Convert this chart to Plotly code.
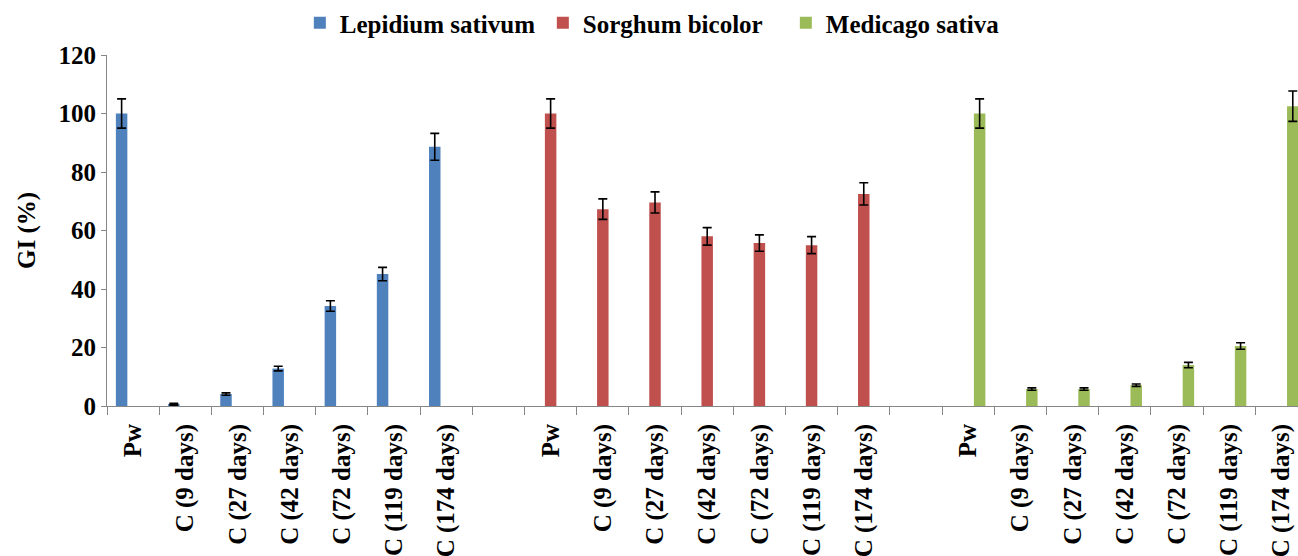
import plotly.graph_objects as go

# Treatments shown for each test species
treatments = ["Pw", "C (9 days)", "C (27 days)", "C (42 days)",
              "C (72 days)", "C (119 days)", "C (174 days)"]
species = ["Lepidium sativum", "Sorghum bicolor", "Medicago sativa"]

# Germination index (%) and its standard deviation
lepidium_gi = [100, 0.6, 4.1, 12.8, 34.2, 45.1, 88.6]
lepidium_err = [5.0, 0.3, 0.4, 0.8, 1.8, 2.3, 4.6]
sorghum_gi = [100, 67.3, 69.6, 58.0, 55.7, 55.0, 72.5]
sorghum_err = [5.0, 3.5, 3.6, 3.0, 2.8, 2.9, 3.8]
medicago_gi = [100, 5.8, 5.8, 7.1, 14.0, 20.5, 102.5]
medicago_err = [5.0, 0.4, 0.4, 0.4, 0.9, 1.1, 5.2]

colors = ["#4F81BD", "#C0504D", "#9BBB59"]
values = [lepidium_gi, sorghum_gi, medicago_gi]
errors = [lepidium_err, sorghum_err, medicago_err]

# Each species occupies its own block of slots on the x axis, separated by one empty slot
block = len(treatments) + 1
n_slots = block * len(species) - 1
tick_pos = []
tick_text = []
for g in range(len(species)):
    for i, t in enumerate(treatments):
        tick_pos.append(g * block + i)
        tick_text.append(t)

FONT = "Liberation Serif, Times New Roman, serif"
BAR_W = 0.22  # bar width as a fraction of one slot (clustered layout of three series)

fig = go.Figure()
for g, name in enumerate(species):
    xs = [g * block + i for i in range(len(treatments))]
    fig.add_trace(go.Bar(
        x=xs, y=values[g], name=name,
        width=BAR_W, offset=-1.5 * BAR_W + g * BAR_W,
        marker=dict(color=colors[g], line=dict(width=0)),
        error_y=dict(type="data", array=errors[g], visible=True,
                     color="#000000", thickness=1.6, width=4.5),
    ))

fig.update_layout(
    width=1298, height=556,
    margin=dict(l=107, r=0, t=55, b=150),
    paper_bgcolor="white", plot_bgcolor="white",
    barmode="overlay",
    font=dict(family=FONT, size=25, color="#000000"),
    legend=dict(orientation="h", xref="container", x=0.231, xanchor="left",
                yref="container", y=1.0, yanchor="top",
                font=dict(family=FONT, size=25, color="#000000", weight="bold"),
                itemwidth=30, entrywidth=198, entrywidthmode="pixels",
                tracegroupgap=0),
    showlegend=True,
)

fig.update_xaxes(
    automargin=False,
    range=[-0.5, n_slots - 0.68],
    tickmode="array", tickvals=tick_pos, ticktext=tick_text,
    tickangle=-90, ticks="", ticklabelstandoff=7,
    tickfont=dict(family=FONT, size=25, color="#000000", weight="bold"),
    minor=dict(tickvals=[i - 0.5 for i in range(n_slots + 1)],
               ticks="outside", ticklen=8, tickcolor="#868686", tickwidth=1),
    showline=True, linecolor="#868686", linewidth=1,
    showgrid=False, zeroline=False,
)

fig.update_yaxes(
    automargin=False,
    range=[0, 120], dtick=20, tick0=0,
    ticks="outside", ticklen=5, tickcolor="#868686", tickwidth=1,
    tickfont=dict(family=FONT, size=25, color="#000000", weight="bold"),
    showline=True, linecolor="#868686", linewidth=1,
    showgrid=False, zeroline=False,
    title=dict(text="GI (%)", standoff=15,
               font=dict(family=FONT, size=25, color="#000000", weight="bold")),
)

fig.write_html("out.html")
